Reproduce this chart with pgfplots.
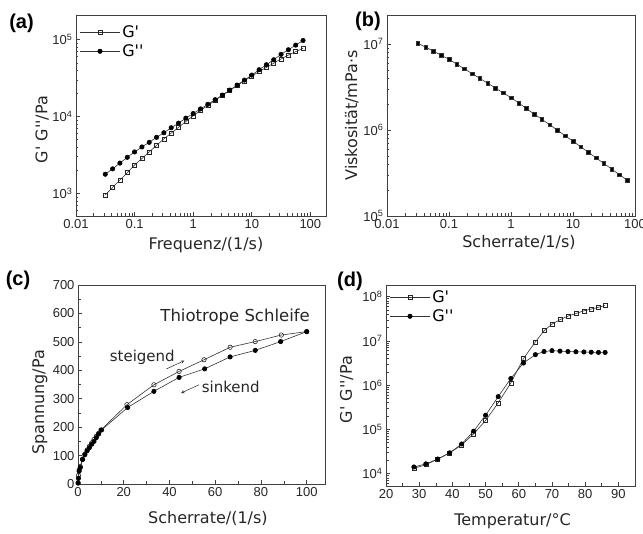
\documentclass[border=0pt]{standalone}
\usepackage{fontspec}
\setmainfont{Liberation Sans}
\newfontfamily\labf{DejaVu Sans}
\usepackage{pgfplots}
\pgfplotsset{compat=1.18}
\newcommand\lab{\labf\fontsize{16}{19}\selectfont}
\newcommand\tk{\fontsize{13}{15}\selectfont}
\newcommand\pnl{\bfseries\fontsize{20}{22}\selectfont}

\pgfplotsset{
  panel/.style={scale only axis, tick pos=left, tick align=inside,
    axis line style={black!75, line width=0.7pt},
    every tick/.style={black!75, line width=0.6pt},
    major tick length=4pt, minor tick length=2.5pt,
    tick label style={font=\tk, text=black!85},
    label style={font=\lab, text=black!85},
    /pgf/number format/assume math mode=true},
  lgx/.style={
    xticklabel={\pgfmathparse{exp(\tick)}\pgfmathprintnumber[fixed relative, precision=1, assume math mode=true]{\pgfmathresult}}},
  lgy/.style={
    yticklabel={10\textsuperscript{\pgfmathparse{int(round(\tick/2.302585))}\pgfmathresult}}},
  opensq/.style={black!80, line width=0.6pt, mark=square, mark size=2pt, mark options={solid, fill=white, draw=black!85}},
  fillci/.style={black!80, line width=0.6pt, mark=*, mark size=2.2pt, mark options={solid, fill=black, draw=black}},
  leg/.style={legend style={draw=none, fill=none, font=\lab, inner sep=1pt, row sep=2pt}, legend cell align=left,
    legend image code/.code={\draw[mark repeat=2, mark phase=2, ##1] plot coordinates {(0pt,0pt) (20pt,0pt) (40pt,0pt)};}},
}

\begin{document}
\begin{tikzpicture}
\useasboundingbox (0pt,0pt) rectangle (643pt,534pt);

% (a) frequency sweep
\begin{axis}[panel, xmode=log, ymode=log, lgx, lgy, at={(76pt,318pt)}, width=250pt, height=201pt,
  xmin=0.01, xmax=185, ymin=509, ymax=2.1e5,
  xlabel={Frequenz/(1/s)}, ylabel={G' G''/Pa},
  xlabel style={at={(axis description cs:0.52,-0.145)}, anchor=center},
  ylabel style={at={(axis description cs:-0.135,0.43)}, anchor=center},
  leg, legend style={at={(axis description cs:0.01,0.965)}, anchor=north west}]
\addplot[opensq] coordinates {
(0.0316,955) (0.0422,1202) (0.0562,1496) (0.0750,1862) (0.1,2344) (0.1334,2851) (0.1778,3467)
(0.2371,4217) (0.3162,5129) (0.4217,6095) (0.5623,7244) (0.7499,8610) (1,10233) (1.334,11967)
(1.778,13964) (2.371,16218) (3.162,19055) (4.217,21878) (5.623,25410) (7.499,29174) (10,33884)
(13.34,38459) (17.78,43652) (23.71,49545) (31.62,56234) (42.17,63096) (56.23,69984) (74.99,77625)};
\addlegendentry{G'}
\addplot[fillci] coordinates {
(0.0316,1778) (0.0422,2089) (0.0562,2483) (0.0750,2951) (0.1,3467) (0.1334,4027) (0.1778,4624)
(0.2371,5370) (0.3162,6166) (0.4217,7161) (0.5623,8222) (0.7499,9550) (1,10965) (1.334,12589)
(1.778,14454) (2.371,16596) (3.162,19055) (4.217,22131) (5.623,25704) (7.499,29854) (10,34674)
(13.34,40738) (17.78,47315) (23.71,54954) (31.62,64565) (42.17,74131) (56.23,85114) (74.99,97724)};
\addlegendentry{G''}
\end{axis}

% (b) viscosity
\begin{axis}[panel, xmode=log, ymode=log, lgx, lgy, at={(387pt,318pt)}, width=248pt, height=201pt,
  xmin=0.01, xmax=100, ymin=1e5, ymax=2.18e7,
  xlabel={Scherrate/1/s)}, ylabel={Viskosität/mPa·s},
  xlabel style={at={(axis description cs:0.532,-0.134)}, anchor=center},
  ylabel style={at={(axis description cs:-0.142,0.5)}, anchor=center}]
\addplot[black!80, line width=0.6pt, mark=square*, mark size=1.8pt, mark options={solid, fill=black}] coordinates {
(0.0316,1.023e7) (0.0422,9.18e6) (0.0562,8.26e6) (0.0750,7.41e6) (0.1,6.65e6) (0.1334,5.85e6) (0.1778,5.14e6)
(0.2371,4.52e6) (0.3162,3.98e6) (0.4217,3.50e6) (0.5623,3.08e6) (0.7499,2.70e6) (1,2.38e6) (1.334,2.06e6)
(1.778,1.78e6) (2.371,1.53e6) (3.162,1.33e6) (4.217,1.15e6) (5.623,9.93e5) (7.499,8.57e5) (10,7.41e5)
(13.34,6.38e5) (17.78,5.50e5) (23.71,4.73e5) (31.62,4.07e5) (42.17,3.51e5) (56.23,3.02e5) (74.99,2.61e5)};
\end{axis}

% (c) thixotropic loop
\begin{axis}[panel, at={(78pt,50pt)}, width=247pt, height=199pt,
  xmin=0, xmax=108, ymin=0, ymax=700,
  xtick={0,20,...,100}, ytick={0,100,...,700}, minor tick num=1,
  xlabel={Scherrate/(1/s)}, ylabel={Spannung/Pa},
  xlabel style={at={(axis description cs:0.526,-0.171)}, anchor=center},
  ylabel style={at={(axis description cs:-0.154,0.41)}, anchor=center}]
\addplot[black!80, line width=0.6pt, mark=o, mark size=2.2pt, mark options={solid, fill=white, draw=black!85}] coordinates {
(0.05,5) (0.2,30) (0.5,50) (1,62) (2,88) (3,106) (4,120) (5,133) (6,145) (7,157) (8,168) (9,178) (10,190)
(21.4,279) (33.2,349) (44.2,396) (55.1,437) (66.5,481) (77.5,501) (88.9,524) (100,536)};
\addplot[fillci] coordinates {
(100,536) (88.6,501) (77.5,470) (66.5,447) (55.4,405) (44.2,375) (33.2,326) (21.7,269) (10.3,190)
(9,176) (8,163) (7,150) (6,140) (5,128) (4,117) (3,103) (2,86) (1,58) (0.5,45) (0.2,20) (0.05,3)};
\node[font=\labf\fontsize{16.5}{18}\selectfont, text=black!85] at (axis cs:68.7,589) {Thiotrope Schleife};
\node[font=\labf\fontsize{15}{17}\selectfont, text=black!85] at (axis cs:28.1,446) {steigend};
\node[font=\labf\fontsize{15}{17}\selectfont, text=black!85] at (axis cs:66.8,343) {sinkend};
\draw[->, >=stealth, black!85, line width=0.5pt] (axis cs:38.7,405) -- (axis cs:46.5,434);
\draw[->, >=stealth, black!85, line width=0.5pt] (axis cs:52.9,349) -- (axis cs:45.1,320);
\end{axis}

% (d) temperature sweep
\begin{axis}[panel, ymode=log, lgy, at={(386pt,48pt)}, width=249pt, height=201pt,
  xmin=20, xmax=95, ymin=5250, ymax=1.84e8,
  xtick={20,30,...,90}, minor x tick num=1,
  xlabel={Temperatur/°C}, ylabel={G' G''/Pa},
  xlabel style={at={(axis description cs:0.508,-0.174)}, anchor=center},
  ylabel style={at={(axis description cs:-0.158,0.48)}, anchor=center},
  leg, legend style={at={(axis description cs:0.01,0.99)}, anchor=north west}]
\addplot[opensq] coordinates {
(28.4,1.318e4) (32.0,1.585e4) (35.6,2.138e4) (39.2,2.951e4) (42.8,4.467e4) (46.4,7.943e4) (50.0,1.585e5)
(53.8,3.981e5) (57.6,1.122e6) (61.4,3.981e6) (65.0,9.550e6) (67.6,1.698e7) (70.0,2.399e7) (72.4,3.020e7)
(74.8,3.631e7) (77.2,4.169e7) (79.6,4.786e7) (81.8,5.248e7) (84.0,5.754e7) (86.0,6.310e7)};
\addlegendentry{G'}
\addplot[fillci] coordinates {
(28.4,1.413e4) (32.0,1.660e4) (35.6,2.138e4) (39.2,2.951e4) (42.8,4.677e4) (46.4,9.120e4) (50.0,2.089e5)
(53.8,5.495e5) (57.6,1.413e6) (61.4,3.162e6) (65.0,4.898e6) (67.6,5.754e6) (70.0,6.026e6) (72.4,5.888e6)
(74.8,5.754e6) (77.2,5.689e6) (79.6,5.623e6) (81.8,5.559e6) (84.0,5.495e6) (86.0,5.495e6)};
\addlegendentry{G''}
\end{axis}

\node[font=\pnl] at (21.5pt,511pt) {(a)};
\node[font=\pnl] at (368pt,513pt) {(b)};
\node[font=\pnl] at (18pt,254pt) {(c)};
\node[font=\pnl] at (350pt,253pt) {(d)};
\end{tikzpicture}
\end{document}
